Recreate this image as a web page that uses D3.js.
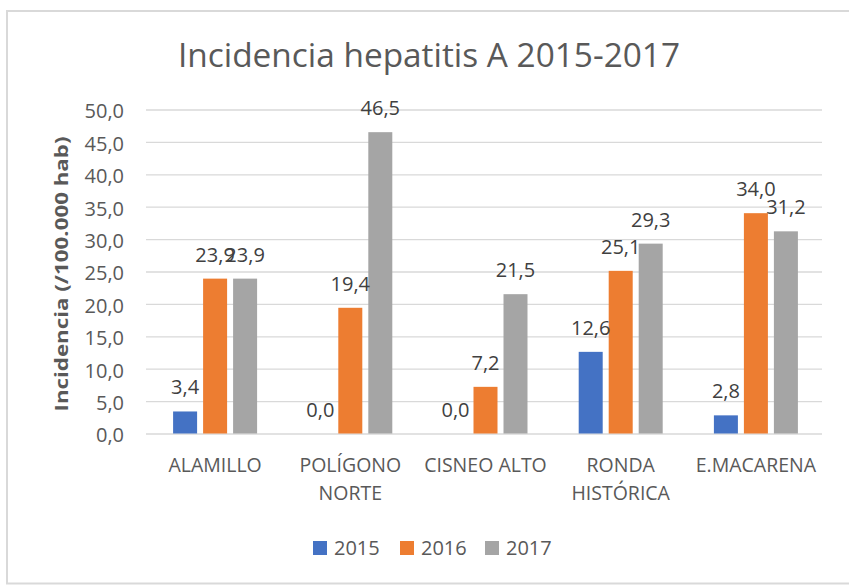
<!DOCTYPE html>
<html><head><meta charset="utf-8">
<script src="https://cdn.jsdelivr.net/npm/d3@7"></script>
<style>
html,body{margin:0;padding:0;background:#fff;}
svg{display:block;font-family:"Open Sans",sans-serif;}
</style></head>
<body>
<svg id="chart" width="849" height="585"></svg>
<script>
const title = "Incidencia hepatitis A 2015-2017";
const yLabel = "Incidencia (/100.000 hab)";
const categories = ["ALAMILLO", "POLÍGONO\nNORTE", "CISNEO ALTO", "RONDA\nHISTÓRICA", "E.MACARENA"];
const seriesNames = ["2015", "2016", "2017"];
const values2015 = [3.4, 0.0, 0.0, 12.6, 2.8];
const values2016 = [23.9, 19.4, 7.2, 25.1, 34.0];
const values2017 = [23.9, 46.5, 21.5, 29.3, 31.2];
const yTicks = [0, 5, 10, 15, 20, 25, 30, 35, 40, 45, 50];
const colors = ["#4472c4", "#ed7d31", "#a5a5a5"];

const seriesValues = [values2015, values2016, values2017];
const locale = d3.formatLocale({decimal: ",", thousands: ".", grouping: [3], currency: ["", "€"]});
const fmt = locale.format(".1f");

const svg = d3.select("#chart");

// outer border
svg.append("rect").attr("x", 7).attr("y", 11).attr("width", 860).attr("height", 572.5)
  .attr("fill", "#fff").attr("stroke", "#d9d9d9").attr("stroke-width", 2);

const plotLeft = 146, plotRight = 822, plotTop = 109.5, plotBottom = 433.5;
const x = d3.scaleBand().domain(categories).range([plotLeft, plotRight]).padding(0);
const xInner = d3.scaleBand().domain(seriesNames).range([-40.5, 43.5]).paddingInner(0.2).paddingOuter(0);
const y = d3.scaleLinear().domain([0, 50]).range([plotBottom, plotTop]);

// y axis with gridlines
const yAxis = d3.axisLeft(y).tickValues(yTicks).tickFormat(fmt)
  .tickSize(-(plotRight - plotLeft)).tickPadding(22);
const gy = svg.append("g").attr("transform", `translate(${plotLeft},0)`).call(yAxis);
gy.select(".domain").remove();
gy.selectAll(".tick line").attr("stroke", "#d9d9d9").attr("stroke-width", 1.3);
gy.selectAll(".tick text").attr("fill", "#595959").style("font-size", "20px")
  .style("font-family", "'Open Sans',sans-serif").attr("dy", "0.42em");

// bars
const groups = svg.append("g").selectAll("g").data(categories).join("g")
  .attr("transform", d => `translate(${x(d) + x.bandwidth() / 2},0)`);
groups.each(function(cat, ci) {
  const g = d3.select(this);
  seriesNames.forEach((s, si) => {
    const v = seriesValues[si][ci];
    g.append("rect").attr("x", xInner(s)).attr("width", xInner.bandwidth())
      .attr("y", y(v)).attr("height", y(0) - y(v)).attr("fill", colors[si]);
  });
  seriesNames.forEach((s, si) => {
    const v = seriesValues[si][ci];
    g.append("text").attr("x", xInner(s) + xInner.bandwidth() / 2).attr("y", y(v) - 17)
      .attr("text-anchor", "middle").attr("fill", "#404040").style("font-size", "20px")
      .text(fmt(v));
  });
});

// category labels
const gx = svg.append("g");
categories.forEach(c => {
  const lines = c.split("\n");
  const t = gx.append("text").attr("text-anchor", "middle").attr("fill", "#595959")
    .style("font-size", "19.5px");
  lines.forEach((ln, i) => {
    t.append("tspan").attr("x", x(c) + x.bandwidth() / 2 + 1.5).attr("y", 472 + i * 28).text(ln);
  });
});

// title
svg.append("text").attr("x", 429).attr("y", 67).attr("text-anchor", "middle")
  .attr("fill", "#595959").style("font-size", "33px")
  .attr("textLength", 502).attr("lengthAdjust", "spacingAndGlyphs").text(title);

// y label
svg.append("text").attr("transform", "translate(68,274) rotate(-90)")
  .attr("text-anchor", "middle").attr("fill", "#595959").style("font-size", "17px")
  .style("font-weight", "bold").attr("textLength", 275).attr("lengthAdjust", "spacingAndGlyphs")
  .text(yLabel);

// legend
const legendX = [313, 400, 485];
const lg = svg.append("g");
seriesNames.forEach((s, i) => {
  lg.append("rect").attr("x", legendX[i]).attr("y", 541).attr("width", 14).attr("height", 14).attr("fill", colors[i]);
  lg.append("text").attr("x", legendX[i] + 21).attr("y", 555).attr("fill", "#595959")
    .style("font-size", "20px").text(s);
});
</script>
</body></html>
